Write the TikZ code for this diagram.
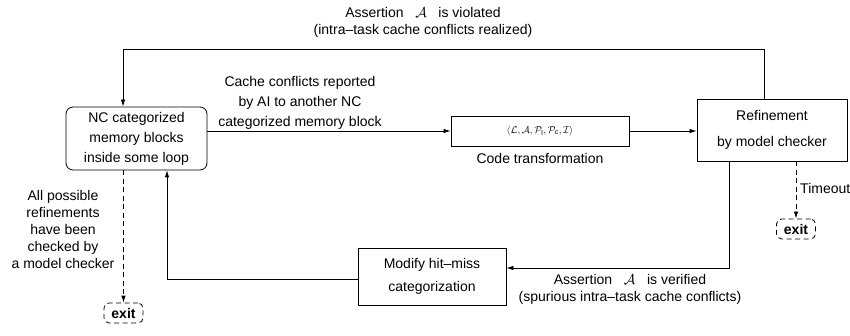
\documentclass[tikz,border=0pt]{standalone}
\usepackage{fontspec}
\setmainfont{Liberation Sans}
\usetikzlibrary{arrows.meta,calc}
\tikzset{
  base/.style={font=\fontsize{14}{17}\selectfont},
  box/.style={draw, line width=0.8pt, inner sep=0pt, align=center, base},
  lbl/.style={align=center, inner sep=0pt, base},
  arr/.style={line width=0.8pt, -{Latex[length=7pt,width=4.5pt]}},
  darr/.style={line width=0.8pt, dash pattern=on 5pt off 3.5pt, -{Latex[length=7pt,width=4.5pt]}},
  exitbox/.style={draw, line width=0.8pt, dash pattern=on 5pt off 3.5pt, rounded corners=5pt, minimum width=39pt, minimum height=20pt, inner sep=0pt, font=\fontsize{14}{17}\selectfont\bfseries}
}
\begin{document}
\begin{tikzpicture}[x=1pt,y=-1pt]
\useasboundingbox (0,0) rectangle (850,336);
% boxes
\node[box, rounded corners=7pt, minimum width=141pt, minimum height=63pt, font=\fontsize{14}{20}\selectfont] (nc) at (136.5,138.5) {NC categorized\\memory blocks\\inside some loop};
\node[box, minimum width=178pt, minimum height=30pt] (code) at (540,131) {\fontsize{10}{12}\selectfont$\langle\mathcal{L},\mathcal{A},\mathcal{P}_{\mathrm{l}},\mathcal{P}_{\mathrm{c}},\mathcal{I}\rangle$};
\node[box, minimum width=150pt, minimum height=62pt, font=\fontsize{14}{26}\selectfont] (ref) at (772,130) {Refinement\\by model checker};
\node[box, minimum width=148pt, minimum height=57pt, font=\fontsize{14}{23}\selectfont] (mod) at (432,276.5) {Modify hit--miss\\categorization};
\node[exitbox] (exitA) at (123.5,313) {exit};
\node[exitbox] (exitB) at (796,229) {exit};
% labels
\node[lbl] (ltop) at (423,22) {Assertion \ \ $\mathcal{A}$ \ \ is violated\\(intra--task cache conflicts realized)};
\node[lbl, font=\fontsize{14}{20}\selectfont] (lcache) at (300,103) {Cache conflicts reported\\by AI to another NC\\categorized memory block};
\node[lbl] (lcode) at (540,158) {Code transformation};
\node[lbl] (lver) at (630,289) {Assertion \ \ $\mathcal{A}$ \ \ is verified\\(spurious intra--task cache conflicts)};
\node[lbl, font=\fontsize{14}{17}\selectfont] (lall) at (63,229) {All possible\\refinements\\have been\\checked by\\a model checker};
\node[lbl, anchor=west] (ltime) at (800,188) {Timeout};
% coordinates
\coordinate (topturn) at (123,49);
\coordinate (botturn) at (729,268);
\coordinate (leftturn) at (167,279);
% connectors
\draw[arr] (nc.east |- code.west) -- (code.west);
\draw[arr] (code.east) -- (code.east -| ref.west);
\draw[arr] ([xshift=-8pt]ref.north) |- (topturn) -- (topturn |- nc.north);
\draw[arr] (ref.south -| botturn) |- (mod.east |- botturn);
\draw[arr] (mod.west |- leftturn) -| (nc.south -| leftturn);
\draw[darr] (nc.south -| exitA.north) -- (exitA.north);
\draw[darr] (ref.south -| exitB.north) -- (exitB.north);
\end{tikzpicture}
\end{document}
